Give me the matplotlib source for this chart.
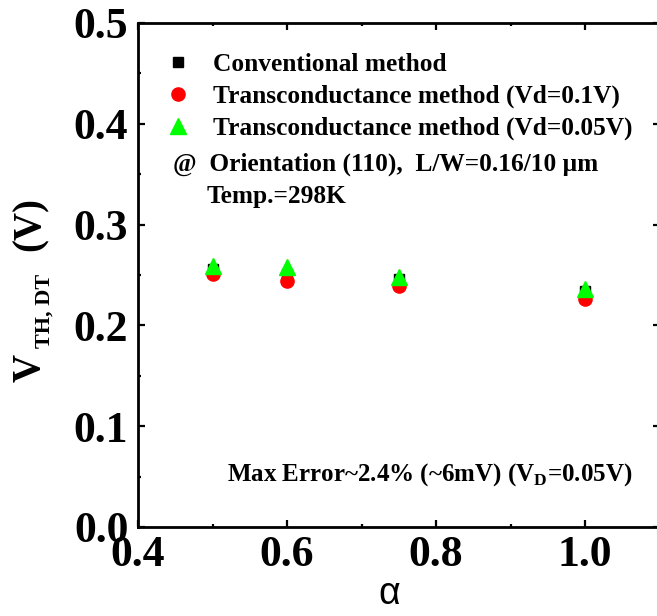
import matplotlib
matplotlib.use("Agg")
import matplotlib.pyplot as plt
from matplotlib.ticker import MultipleLocator

# alpha values and extracted threshold voltages (V)
alpha = [0.5, 0.6, 0.75, 1.0]
vth_conv = [0.256, 0.251, 0.246, 0.234]
vth_gm_01 = [0.251, 0.244, 0.239, 0.226]
vth_gm_005 = [0.259, 0.2575, 0.248, 0.236]

labels = ["Conventional method",
          "Transconductance method (Vd=0.1V)",
          "Transconductance method (Vd=0.05V)"]

plt.rcParams['font.family'] = ['Liberation Serif', 'DejaVu Serif']
plt.rcParams['font.weight'] = 'bold'
plt.rcParams['mathtext.fontset'] = 'custom'
plt.rcParams['mathtext.rm'] = 'Liberation Serif:bold'
plt.rcParams['mathtext.bf'] = 'Liberation Serif:bold'

W, H = 657, 616
fig = plt.figure(figsize=(W / 100, H / 100), dpi=100)
ax = fig.add_axes([138 / W, 89 / H, 521.5 / W, 504 / H])

h1, = ax.plot(alpha, vth_conv, 's', color='black', markersize=7, linestyle='none')
h2, = ax.plot(alpha, vth_gm_01, 'o', color='#ff0000', markersize=9.5, linestyle='none')
h3, = ax.plot(alpha, vth_gm_005, '^', color='#00ff00', markersize=11, linestyle='none')

ax.set_xlim(0.4, 1.1)
ax.set_ylim(0.0, 0.5)
ax.xaxis.set_major_locator(MultipleLocator(0.2))
ax.xaxis.set_minor_locator(MultipleLocator(0.1))
ax.yaxis.set_major_locator(MultipleLocator(0.1))
ax.yaxis.set_minor_locator(MultipleLocator(0.05))
ax.xaxis.set_major_formatter(lambda v, p: "%.1f" % v)
ax.yaxis.set_major_formatter(lambda v, p: "%.1f" % v)

for s in ax.spines.values():
    s.set_linewidth(2.0)
ax.tick_params(which='both', direction='in', top=True, right=True, width=1.6)
ax.tick_params(which='major', length=5)
ax.tick_params(which='minor', length=2.5)
ax.tick_params(axis='x', labelsize=31.5, pad=6)
ax.tick_params(axis='y', labelsize=31.5, pad=7)

ax.set_xlabel("α", fontsize=27, family=['Liberation Sans'], fontweight='normal')
ax.xaxis.set_label_coords(0.481, -0.098)

# y label pieces (rotated)
fig.text(40 / W, 1 - 382 / H, "V", fontsize=28, rotation=90,
         rotation_mode='anchor', ha='left', va='baseline')
fig.text(50 / W, 1 - 348 / H, "TH, DT", fontsize=16, rotation=90,
         rotation_mode='anchor', ha='left', va='baseline')
fig.text(40 / W, 1 - 251 / H, "(V)", fontsize=28, rotation=90,
         rotation_mode='anchor', ha='left', va='baseline')

ax.legend([h1, h2, h3], labels, loc='upper left', bbox_to_anchor=(0.0537, 0.940),
          frameon=False, fontsize=18.3, borderpad=0, borderaxespad=0,
          handlelength=0.95, handletextpad=0.9, labelspacing=0.34)

ax.text(0.0671, 0.7202, "@  Orientation (110),  L/W=0.16/10 μm", fontsize=18.3,
        transform=ax.transAxes, va='center', ha='left')
ax.text(0.1323, 0.6548, "Temp.=298K", fontsize=18.3,
        transform=ax.transAxes, va='center', ha='left')
ax.text(0.1707, 0.105, r"Max Error~2.4% (~6mV) (V$_\mathrm{D}$=0.05V)", fontsize=18,
        transform=ax.transAxes, va='center', ha='left')

fig.savefig("out.png", dpi=100)
